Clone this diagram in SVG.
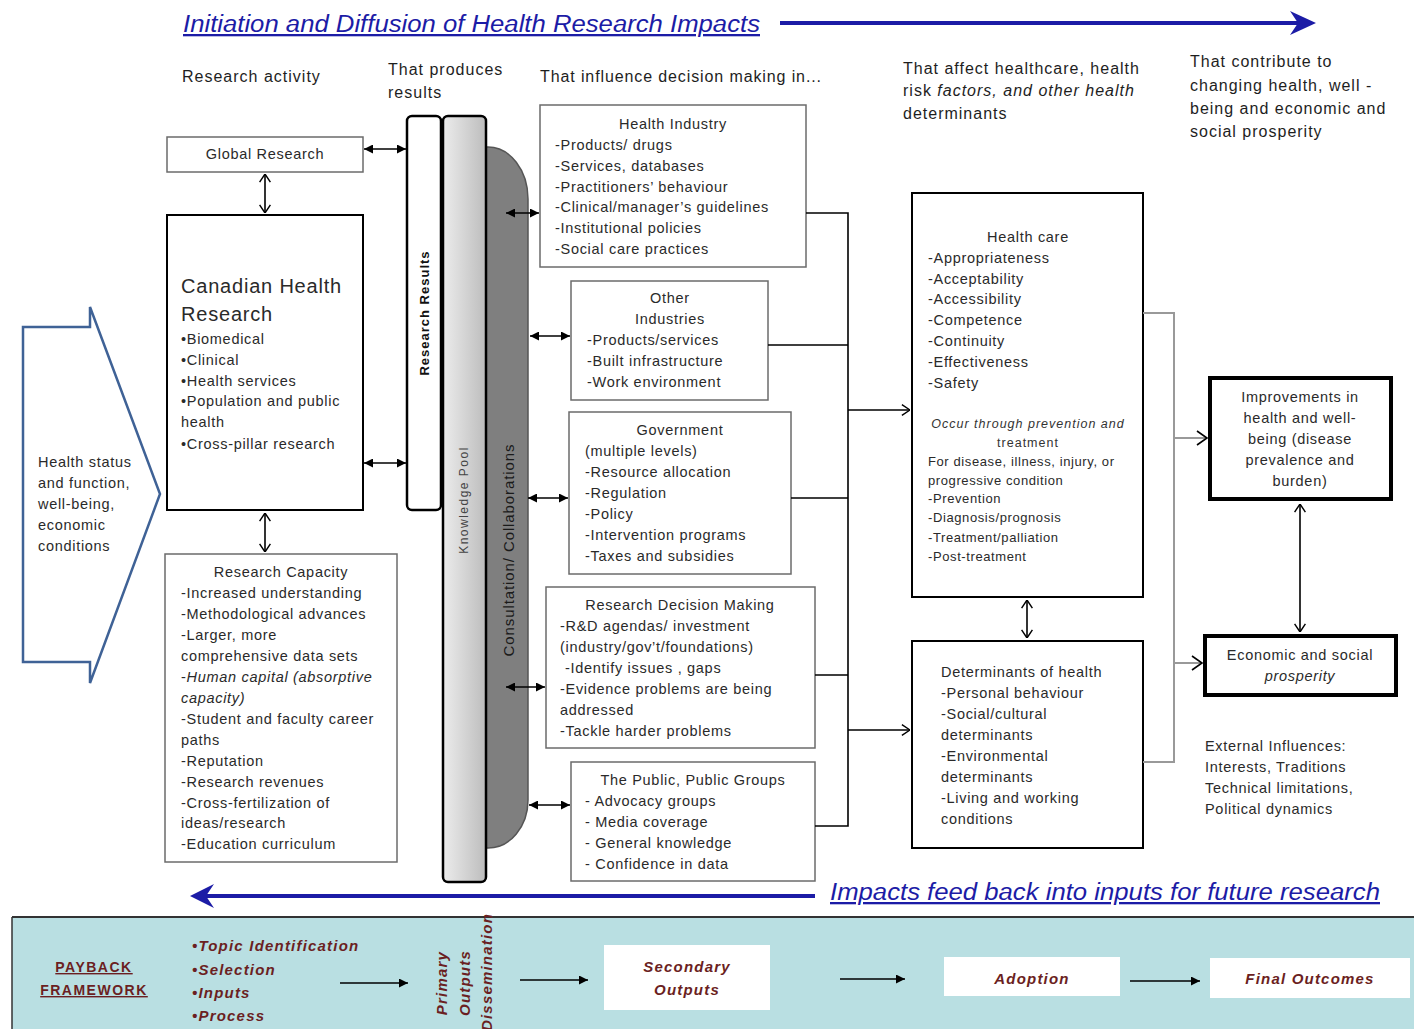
<svg xmlns="http://www.w3.org/2000/svg" width="1414" height="1029" viewBox="0 0 1414 1029">
  <style>
    text { font-family: "Liberation Sans", Arial, sans-serif; }
    .t { font-size: 14.5px; letter-spacing: 0.7px; fill: #2a2a2a; }
    .s { font-size: 13px; letter-spacing: 0.6px; fill: #2a2a2a; }
    .h { font-size: 16px; letter-spacing: 1px; fill: #1e1e1e; }
    .c { text-anchor: middle; }
    .it { font-style: italic; }
    .box { fill: #fff; stroke: #6b6b6b; stroke-width: 1.5; }
    .boxk { fill: #fff; stroke: #000; stroke-width: 2; }
    .thick { fill: #fff; stroke: #000; stroke-width: 4; }
    .ln { stroke: #000; stroke-width: 1.6; fill: none; }
    .lg { stroke: #999; stroke-width: 2; fill: none; }
    .blue { fill: #1c1ca6; }
    .pb { font-size: 15px; letter-spacing: 1.2px; fill: #6b1f22; font-weight: bold; font-style: italic; }
  </style>
  <defs>
    <marker id="ah" viewBox="0 0 10 10" refX="10" refY="5" markerWidth="9" markerHeight="9" markerUnits="userSpaceOnUse" orient="auto-start-reverse">
      <path d="M0,0 L10,5 L0,10 z" fill="#000"/>
    </marker>
    <marker id="oh" viewBox="0 0 10 14" refX="10" refY="7" markerWidth="9" markerHeight="13" markerUnits="userSpaceOnUse" orient="auto-start-reverse">
      <path d="M1,1 L10,7 L1,13" fill="none" stroke="#000" stroke-width="1.6"/>
    </marker>
    <linearGradient id="pool" x1="0" y1="0" x2="1" y2="0">
      <stop offset="0" stop-color="#ececec"/>
      <stop offset="1" stop-color="#bdbdbd"/>
    </linearGradient>
  </defs>

  <rect width="1414" height="1029" fill="#fff"/>

  <!-- top banner -->
  <g id="title">
    <text x="183" y="32" class="blue it" font-size="23" text-decoration="underline" textLength="577" lengthAdjust="spacingAndGlyphs">Initiation and Diffusion of Health Research Impacts</text>
    <line x1="780" y1="23" x2="1300" y2="23" stroke="#1c1ca6" stroke-width="4"/>
    <polygon points="1290,11 1316,23 1290,35 1298,23" fill="#1c1ca6"/>
  </g>

  <!-- column headings -->
  <g id="headings" class="h">
    <text x="182" y="82">Research activity</text>
    <text x="388" y="75">That produces</text>
    <text x="388" y="98">results</text>
    <text x="540" y="82" textLength="282">That influence decision making in...</text>
    <text x="903" y="74">That affect healthcare, health</text>
    <text x="903" y="96">risk <tspan class="it">factors, and other health</tspan></text>
    <text x="903" y="119">determinants</text>
    <text x="1190" y="67">That contribute to</text>
    <text x="1190" y="91">changing health, well -</text>
    <text x="1190" y="114">being and economic and</text>
    <text x="1190" y="137">social prosperity</text>
  </g>

  <!-- health status input arrow -->
  <g id="health-status">
    <polygon points="23,327 90,327 90,307 160,494 90,683 90,662 23,662" fill="#fff" stroke="#3f6296" stroke-width="2.5"/>
    <text class="t" x="38" y="467" fill="#555">Health status</text>
    <text class="t" x="38" y="488" fill="#555">and function,</text>
    <text class="t" x="38" y="509" fill="#555">well-being,</text>
    <text class="t" x="38" y="530" fill="#555">economic</text>
    <text class="t" x="38" y="551" fill="#555">conditions</text>
  </g>

  <!-- research activity column -->
  <g id="global-research">
    <rect class="box" x="167" y="137" width="196" height="35"/>
    <text class="t c" x="265" y="159" fill="#444">Global Research</text>
  </g>

  <g id="canadian-health-research">
    <rect class="boxk" x="167" y="215" width="196" height="295"/>
    <text x="181" y="293" font-size="20" letter-spacing="0.8" fill="#2a2a2a">Canadian Health</text>
    <text x="181" y="321" font-size="20" letter-spacing="0.8" fill="#2a2a2a">Research</text>
    <text class="t" x="181" y="344">•Biomedical</text>
    <text class="t" x="181" y="365">•Clinical</text>
    <text class="t" x="181" y="386">•Health services</text>
    <text class="t" x="181" y="406">•Population and public</text>
    <text class="t" x="181" y="427">health</text>
    <text class="t" x="181" y="449">•Cross-pillar research</text>
  </g>

  <g id="research-capacity">
    <rect class="box" x="165" y="554" width="232" height="308"/>
    <text class="t c" x="281" y="577">Research Capacity</text>
    <text class="t" x="181" y="598">-Increased understanding</text>
    <text class="t" x="181" y="619">-Methodological advances</text>
    <text class="t" x="181" y="640">-Larger, more</text>
    <text class="t" x="181" y="661">comprehensive data sets</text>
    <text class="t" x="181" y="682">-<tspan class="it">Human capital (absorptive</tspan></text>
    <text class="t" x="181" y="703"><tspan class="it">capacity)</tspan></text>
    <text class="t" x="181" y="724">-Student and faculty career</text>
    <text class="t" x="181" y="745">paths</text>
    <text class="t" x="181" y="766">-Reputation</text>
    <text class="t" x="181" y="787">-Research revenues</text>
    <text class="t" x="181" y="808">-Cross-fertilization of</text>
    <text class="t" x="181" y="828">ideas/research</text>
    <text class="t" x="181" y="849">-Education curriculum</text>
  </g>

  <!-- results / knowledge pool / consultation bars -->
  <g id="consultation">
    <path d="M484,147 H488 A40,52 0 0 1 528,199 V800 A40,48 0 0 1 488,848 H484 Z" fill="#7f7f7f" stroke="#555" stroke-width="1.5"/>
    <text class="c" transform="translate(514,550) rotate(-90)" font-size="15" letter-spacing="0.9" fill="#1a1a1a">Consultation/ Collaborations</text>
  </g>

  <g id="knowledge-pool">
    <rect x="443" y="116" width="43" height="766" rx="5" fill="url(#pool)" stroke="#000" stroke-width="2.5"/>
    <text class="c" transform="translate(468,500) rotate(-90)" font-size="12" letter-spacing="1.5" fill="#444">Knowledge Pool</text>
  </g>

  <g id="research-results">
    <rect x="407" y="116" width="34" height="394" rx="5" fill="#fff" stroke="#000" stroke-width="2.5"/>
    <text class="c" transform="translate(429,313) rotate(-90)" font-size="13" letter-spacing="1" font-weight="bold" fill="#111">Research Results</text>
  </g>

  <!-- decision making column -->
  <g id="health-industry">
    <rect class="box" x="540" y="105" width="266" height="162"/>
    <text class="t c" x="673" y="129">Health Industry</text>
    <text class="t" x="555" y="150">-Products/ drugs</text>
    <text class="t" x="555" y="171">-Services, databases</text>
    <text class="t" x="555" y="192">-Practitioners’ behaviour</text>
    <text class="t" x="555" y="212">-Clinical/manager’s guidelines</text>
    <text class="t" x="555" y="233">-Institutional policies</text>
    <text class="t" x="555" y="254">-Social care practices</text>
  </g>

  <g id="other-industries">
    <rect class="box" x="571" y="281" width="197" height="119"/>
    <text class="t c" x="670" y="303">Other</text>
    <text class="t c" x="670" y="324">Industries</text>
    <text class="t" x="587" y="345">-Products/services</text>
    <text class="t" x="587" y="366">-Built infrastructure</text>
    <text class="t" x="587" y="387">-Work environment</text>
  </g>

  <g id="government">
    <rect class="box" x="569" y="412" width="222" height="162"/>
    <text class="t c" x="680" y="435">Government</text>
    <text class="t" x="585" y="456">(multiple levels)</text>
    <text class="t" x="585" y="477">-Resource allocation</text>
    <text class="t" x="585" y="498">-Regulation</text>
    <text class="t" x="585" y="519">-Policy</text>
    <text class="t" x="585" y="540">-Intervention programs</text>
    <text class="t" x="585" y="561">-Taxes and subsidies</text>
  </g>

  <g id="research-decision-making">
    <rect class="box" x="546" y="587" width="269" height="161"/>
    <text class="t c" x="680" y="610">Research Decision Making</text>
    <text class="t" x="560" y="631">-R&amp;D agendas/ investment</text>
    <text class="t" x="560" y="652">(industry/gov’t/foundations)</text>
    <text class="t" x="565" y="673">-Identify issues , gaps</text>
    <text class="t" x="560" y="694">-Evidence problems are being</text>
    <text class="t" x="560" y="715">addressed</text>
    <text class="t" x="560" y="736">-Tackle harder problems</text>
  </g>

  <g id="public-groups">
    <rect class="box" x="571" y="762" width="244" height="119"/>
    <text class="t c" x="693" y="785">The Public, Public Groups</text>
    <text class="t" x="585" y="806">- Advocacy groups</text>
    <text class="t" x="585" y="827">- Media coverage</text>
    <text class="t" x="585" y="848">- General knowledge</text>
    <text class="t" x="585" y="869">- Confidence in data</text>
  </g>

  <!-- effects column -->
  <g id="health-care">
    <rect class="boxk" x="912" y="193" width="231" height="404"/>
    <text class="t c" x="1028" y="242">Health care</text>
    <text class="t" x="928" y="263">-Appropriateness</text>
    <text class="t" x="928" y="284">-Acceptability</text>
    <text class="t" x="928" y="304">-Accessibility</text>
    <text class="t" x="928" y="325">-Competence</text>
    <text class="t" x="928" y="346">-Continuity</text>
    <text class="t" x="928" y="367">-Effectiveness</text>
    <text class="t" x="928" y="388">-Safety</text>
    <text class="c it" x="1028" y="428" font-size="12.5" letter-spacing="1" fill="#333">Occur through prevention and</text>
    <text class="c" x="1028" y="447" font-size="12.5" letter-spacing="1" fill="#333">treatment</text>
    <text class="s" x="928" y="466">For disease, illness, injury, or</text>
    <text class="s" x="928" y="485">progressive condition</text>
    <text class="s" x="928" y="503">-Prevention</text>
    <text class="s" x="928" y="522">-Diagnosis/prognosis</text>
    <text class="s" x="928" y="542">-Treatment/palliation</text>
    <text class="s" x="928" y="561">-Post-treatment</text>
  </g>

  <g id="determinants">
    <rect class="boxk" x="912" y="641" width="231" height="207"/>
    <text class="t" x="941" y="677">Determinants of health</text>
    <text class="t" x="941" y="698">-Personal behaviour</text>
    <text class="t" x="941" y="719">-Social/cultural</text>
    <text class="t" x="941" y="740">determinants</text>
    <text class="t" x="941" y="761">-Environmental</text>
    <text class="t" x="941" y="782">determinants</text>
    <text class="t" x="941" y="803">-Living and working</text>
    <text class="t" x="941" y="824">conditions</text>
  </g>

  <!-- outcomes column -->
  <g id="improvements">
    <rect class="thick" x="1210" y="378" width="181" height="121"/>
    <text class="t c" x="1300" y="402">Improvements in</text>
    <text class="t c" x="1300" y="423">health and well-</text>
    <text class="t c" x="1300" y="444">being (disease</text>
    <text class="t c" x="1300" y="465">prevalence and</text>
    <text class="t c" x="1300" y="486">burden)</text>
  </g>

  <g id="prosperity">
    <rect class="thick" x="1205" y="636" width="191" height="59"/>
    <text class="t c" x="1300" y="660">Economic and social</text>
    <text class="t c it" x="1300" y="681">prosperity</text>
  </g>

  <g id="external-influences">
    <text class="t" x="1205" y="751" fill="#555">External Influences:</text>
    <text class="t" x="1205" y="772" fill="#555">Interests, Traditions</text>
    <text class="t" x="1205" y="793" fill="#555">Technical limitations,</text>
    <text class="t" x="1205" y="814" fill="#555">Political dynamics</text>
  </g>

  <!-- connectors -->
  <g id="connectors">
    <line class="ln" x1="364" y1="149" x2="406" y2="149" marker-start="url(#ah)" marker-end="url(#ah)"/>
    <line class="ln" x1="364" y1="463" x2="406" y2="463" marker-start="url(#ah)" marker-end="url(#ah)"/>
    <line class="ln" x1="265" y1="174" x2="265" y2="213" marker-start="url(#oh)" marker-end="url(#oh)"/>
    <line class="ln" x1="265" y1="513" x2="265" y2="552" marker-start="url(#oh)" marker-end="url(#oh)"/>

    <line class="ln" x1="506" y1="213" x2="539" y2="213" marker-start="url(#ah)" marker-end="url(#ah)"/>
    <line class="ln" x1="530" y1="336" x2="570" y2="336" marker-start="url(#ah)" marker-end="url(#ah)"/>
    <line class="ln" x1="528" y1="498" x2="568" y2="498" marker-start="url(#ah)" marker-end="url(#ah)"/>
    <line class="ln" x1="506" y1="687" x2="545" y2="687" marker-start="url(#ah)" marker-end="url(#ah)"/>
    <line class="ln" x1="529" y1="805" x2="570" y2="805" marker-start="url(#ah)" marker-end="url(#ah)"/>

    <path class="ln" d="M806,213 H848 V826 H815 M768,345 H848 M791,498 H848 M815,675 H848"/>
    <line class="ln" x1="848" y1="410" x2="910" y2="410" marker-end="url(#oh)"/>
    <line class="ln" x1="848" y1="730" x2="910" y2="730" marker-end="url(#oh)"/>

    <line class="ln" x1="1027" y1="600" x2="1027" y2="638" marker-start="url(#oh)" marker-end="url(#oh)"/>

    <path class="lg" d="M1143,313 H1174 V762 H1143"/>
    <line class="lg" x1="1174" y1="438" x2="1207" y2="438"/>
    <line class="lg" x1="1174" y1="663" x2="1202" y2="663"/>
    <path class="ln" d="M1197,431 L1207,438 L1197,445 M1192,656 L1202,663 L1192,670"/>

    <line class="ln" x1="1300" y1="504" x2="1300" y2="632" marker-start="url(#oh)" marker-end="url(#oh)"/>
  </g>

  <!-- feedback banner -->
  <g id="feedback">
    <line x1="206" y1="896" x2="815" y2="896" stroke="#1c1ca6" stroke-width="4"/>
    <polygon points="214,884 190,896 214,908 206,896" fill="#1c1ca6"/>
    <text x="830" y="900" class="blue it" font-size="23" text-decoration="underline" textLength="550" lengthAdjust="spacingAndGlyphs">Impacts feed back into inputs for future research</text>
  </g>

  <!-- payback framework strip -->
  <g id="payback">
    <rect x="12" y="917" width="1402" height="112" fill="#b9dfe2"/>
    <line x1="12" y1="917" x2="1414" y2="917" stroke="#333" stroke-width="2"/>
    <line x1="12" y1="917" x2="12" y2="1029" stroke="#333" stroke-width="1.5"/>
    <text class="c" x="94" y="972" font-size="14" letter-spacing="1.5" font-weight="bold" fill="#6b1f22" text-decoration="underline">PAYBACK</text>
    <text class="c" x="94" y="995" font-size="14" letter-spacing="1.5" font-weight="bold" fill="#6b1f22" text-decoration="underline">FRAMEWORK</text>
    <text class="pb" x="192" y="951">•Topic  Identification</text>
    <text class="pb" x="192" y="975">•Selection</text>
    <text class="pb" x="192" y="998">•Inputs</text>
    <text class="pb" x="192" y="1021">•Process</text>
    <text class="pb c" transform="translate(447,983) rotate(-90)">Primary</text>
    <text class="pb c" transform="translate(470,983) rotate(-90)">Outputs</text>
    <text class="pb c" transform="translate(492,972) rotate(-90)" font-size="14" letter-spacing="0.5">Dissemination</text>
  </g>

  <g id="secondary-outputs">
    <rect x="604" y="945" width="166" height="65" fill="#fff"/>
    <text class="pb c" x="687" y="972">Secondary</text>
    <text class="pb c" x="687" y="995">Outputs</text>
  </g>
  <g id="adoption">
    <rect x="944" y="957" width="176" height="39" fill="#fff"/>
    <text class="pb c" x="1032" y="984">Adoption</text>
  </g>
  <g id="final-outcomes">
    <rect x="1210" y="958" width="200" height="40" fill="#fff"/>
    <text class="pb c" x="1310" y="984">Final Outcomes</text>
  </g>

  <g id="payback-connectors">
    <line class="ln" x1="340" y1="983" x2="408" y2="983" marker-end="url(#ah)"/>
    <line class="ln" x1="520" y1="980" x2="588" y2="980" marker-end="url(#ah)"/>
    <line class="ln" x1="840" y1="979" x2="905" y2="979" marker-end="url(#ah)"/>
    <line class="ln" x1="1130" y1="981" x2="1200" y2="981" marker-end="url(#ah)"/>
  </g>
</svg>
